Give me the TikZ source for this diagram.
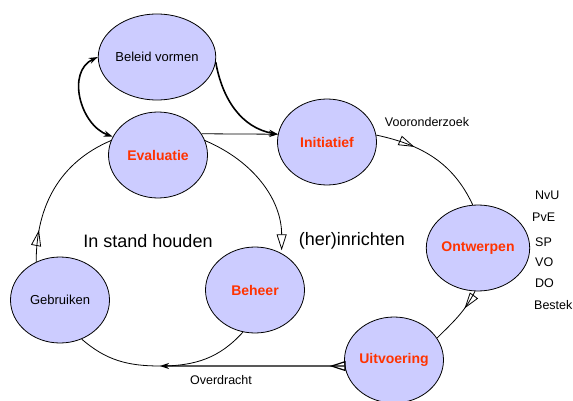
\documentclass[tikz,border=0pt]{standalone}
\usepackage{fontspec}
\setmainfont{Liberation Sans}
\usetikzlibrary{shapes.geometric,arrows.meta,decorations.markings}
\definecolor{phasefill}{RGB}{204,204,255}
\definecolor{phasered}{RGB}{255,51,0}

\begin{document}
\begin{tikzpicture}[x=1pt, y=1pt, >={Stealth[length=9pt,width=6pt]},
    phase/.style={ellipse, draw, line width=0.8pt, fill=phasefill, minimum width=99pt, minimum height=86pt, inner sep=0pt, font=\fontsize{13}{15}\selectfont},
    mainphase/.style={phase, text=phasered, font=\fontsize{14}{16}\selectfont\bfseries},
    flow/.style={line width=0.8pt},
    openhead/.style={postaction={decorate}, decoration={markings, mark=at position #1 with {\arrow{Triangle[open,length=16pt,width=10pt]}}}},
    big/.style={font=\fontsize{18}{20}\selectfont},
    small/.style={font=\fontsize{12.5}{14}\selectfont},
    side/.style={small, anchor=west, inner sep=0pt}]
    \useasboundingbox (0,0) rectangle (573,-401);
    \node[phase] (beleid) at (157,-57) {Beleid vormen};
    \node[mainphase] (eval) at (158,-155) {Evaluatie};
    \node[mainphase] (init) at (327,-142) {Initiatief};
    \node[mainphase] (ontw) at (478,-248) {Ontwerpen};
    \node[mainphase] (uitv) at (394,-360) {Uitvoering};
    \node[phase] (gebr) at (60,-300) {Gebruiken};
    \node[mainphase] (beheer) at (255,-290) {Beheer};
    \coordinate (overdracht) at (160,-366);

    \draw[<->, line width=1.6pt] (beleid.west) to[out=205, in=160, looseness=1.1] (eval.158);
    \draw[->, line width=1.6pt] (beleid.-5) to[out=-80, in=170] (init.171);
    \draw[->, flow] (eval.26) -- (init.171);
    \draw[flow, -{Triangle[open,length=16pt,width=10pt]}, shorten >=3pt] (eval.17) to[out=-23, in=90] (beheer.54);
    \draw[flow, openhead=32pt] (gebr.122) to[out=90, in=203] (eval.163);
    \draw[flow] (gebr.-61) to[out=-41, in=180] (overdracht);
    \draw[flow] (beheer.-106) to[out=-132, in=0] (overdracht);
    \draw[flow, openhead=40pt] (init.8) to[out=-12, in=115] (ontw.97);
    \draw[flow, openhead=20pt] (ontw.-94) to[out=-117, in=45] (uitv.27);
    \draw[->, line width=1.2pt, openhead=15pt] (uitv.187) -- (overdracht);

    \node[big] (instand) at (148,-241) {In stand houden};
    \node[big] (herinr) at (352,-241) {(her)inrichten};
    \node[small] (vooronderzoek) at (427,-122) {Vooronderzoek};
    \node[small] (overdrachtlabel) at (221,-380) {Overdracht};
    \node[side] (nvu) at (535,-195) {NvU};
    \node[side] (pve) at (532,-217) {PvE};
    \node[side] (sp) at (535,-242) {SP};
    \node[side] (vo) at (535,-262) {VO};
    \node[side] (do) at (535,-283) {DO};
    \node[side] (bestek) at (534,-305) {Bestek};
\end{tikzpicture}
\end{document}
